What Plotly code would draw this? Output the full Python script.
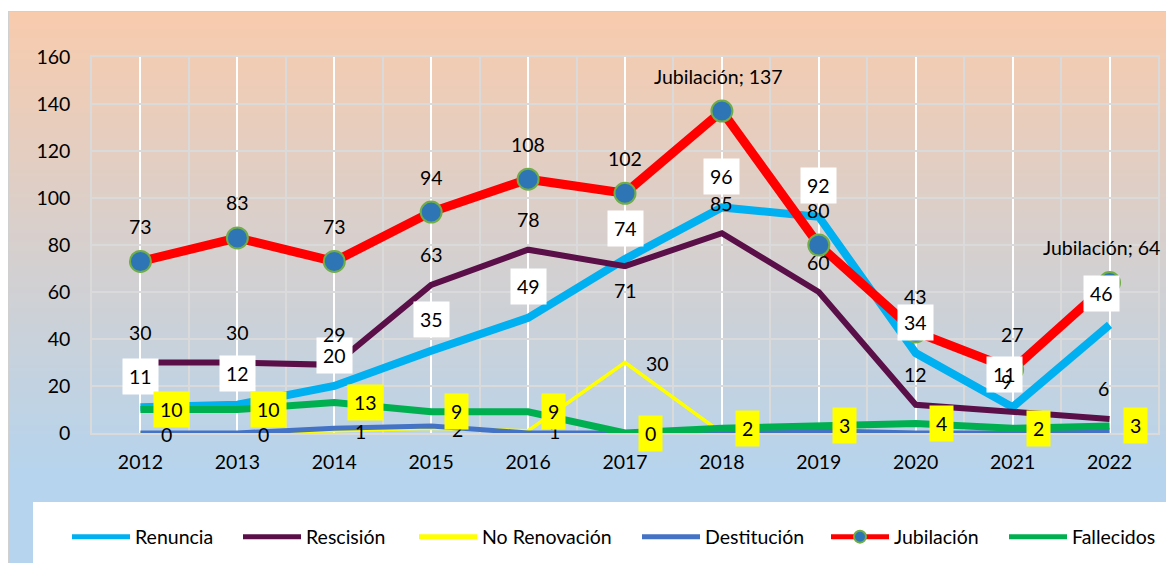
import plotly.graph_objects as go

# ---------------- data ----------------
years = [2012, 2013, 2014, 2015, 2016, 2017, 2018, 2019, 2020, 2021, 2022]
renuncia = [11, 12, 20, 35, 49, 74, 96, 92, 34, 11, 46]
rescision = [30, 30, 29, 63, 78, 71, 85, 60, 12, 9, 6]
no_renovacion = [0, 0, 1, 2, 1, 30, 0, 1, 0, 0, 0]
destitucion = [0, 0, 2, 3, 0, 0, 0, 1, 0, 0, 1]
jubilacion = [73, 83, 73, 94, 108, 102, 137, 80, 43, 27, 64]
fallecidos = [10, 10, 13, 9, 9, 0, 2, 3, 4, 2, 3]
y_ticks = [0, 20, 40, 60, 80, 100, 120, 140, 160]
series_names = ["Renuncia", "Rescisión", "No Renovación", "Destitución", "Jubilación", "Fallecidos"]
jub_named_years = [2018, 2022]            # labels that show "series; value"
no_renov_label_years = [2012, 2013, 2014, 2015, 2016, 2017]  # labels not hidden by boxes

# ---------------- layout geometry (screen pixels; page body has 8px margin) ----------------
W, H = 1174, 563
OFF = 8
PL, PR, PT, PB = 92, 1158, 57, 433          # plot area in screen pixels
pw, ph = PR - PL, PB - PT


def px(x):
    return (x - PL) / pw


def py(y):
    return (PB - y) / ph


FONT = "Lato"
FS = 19.5
fig = go.Figure()

colors = {
    "Renuncia": "#00b0f0",
    "Rescisión": "#5a0f48",
    "No Renovación": "#ffff00",
    "Destitución": "#4472c4",
    "Jubilación": "#ff0000",
    "Fallecidos": "#00b050",
}
widths = {"Renuncia": 8, "Rescisión": 6, "No Renovación": 3.5, "Destitución": 5,
          "Jubilación": 9, "Fallecidos": 7}
values = {"Renuncia": renuncia, "Rescisión": rescision, "No Renovación": no_renovacion,
          "Destitución": destitucion, "Jubilación": jubilacion, "Fallecidos": fallecidos}

for i, name in enumerate(series_names):
    if name == "Jubilación":
        kw = dict(mode="lines+markers",
                  marker=dict(size=21, color="#2e75b6", line=dict(color="#70ad47", width=2)))
    else:
        kw = dict(mode="lines")
    fig.add_trace(go.Scatter(
        x=years, y=values[name], name=name,
        line=dict(color=colors[name], width=widths[name]),
        legend="legend" if i == 0 else f"legend{i+1}",
        hoverinfo="skip", **kw))

# ---------------- data labels ----------------
ann = []
lab_font = dict(family=FONT, size=FS, color="#000000")

# No Renovación (right)
for x, v in zip(years, no_renovacion):
    if x in no_renov_label_years:
        ann.append(dict(x=x, y=v, text=str(v), showarrow=False, xanchor="left", yanchor="middle",
                        xshift=19, yshift=-1, font=lab_font))
# Jubilación (above)
for x, v in zip(years, jubilacion):
    t = f"Jubilación; {v}" if x in jub_named_years else str(v)
    ann.append(dict(x=x, y=v, text=t, showarrow=False, xanchor="center", yanchor="middle",
                    yshift=35, xshift=(-8 if x == 2022 else -3) if t != str(v) else 0, font=lab_font))
# Renuncia (above, white box)
for x, v in zip(years, renuncia):
    t = str(v)
    ann.append(dict(x=x, y=v, text=t, showarrow=False, xanchor="center", yanchor="middle",
                    yshift=(33 if x == 2021 else 31), xshift=(-8 if x in (2021, 2022) else 0),
                    font=lab_font, bgcolor="#ffffff", borderpad=6))
# Rescisión (above, 2017 below)
for x, v in zip(years, rescision):
    ann.append(dict(x=x, y=v, text=str(v), showarrow=False, xanchor="center", yanchor="middle",
                    yshift=(-24 if x == 2017 else 30), xshift=(-6 if x in (2021, 2022) else 0),
                    font=lab_font))
# Fallecidos (right, yellow box)
for x, v in zip(years, fallecidos):
    t = str(v)
    ann.append(dict(x=x, y=v, text=t, showarrow=False, xanchor="left", yanchor="middle",
                    xshift=13, yshift=0, font=lab_font,
                    bgcolor="#ffff00", borderpad=6))

# ---------------- background (gradient bands) ----------------
shapes = []
top_c = (248, 203, 173)
bot_c = (182, 212, 237)
y0g, y1g = 11, 470
step = 3
yy = 11
while yy < H + 10:
    t = min(max((yy - y0g) / (y1g - y0g), 0), 1)
    c = tuple(round(top_c[k] + (bot_c[k] - top_c[k]) * t) for k in range(3))
    shapes.append(dict(type="rect", xref="paper", yref="paper", layer="below",
                       x0=px(8), x1=px(W + 10), y0=py(yy), y1=py(yy + step + 1),
                       fillcolor=f"rgb{c}", line=dict(width=0)))
    yy += step
# outer border
shapes.append(dict(type="rect", xref="paper", yref="paper", layer="below",
                   x0=px(8.5), x1=px(W + 10), y0=py(11.5), y1=py(H + 10),
                   fillcolor="rgba(0,0,0,0)", line=dict(color="#d0d0d0", width=1)))
# legend white box
shapes.append(dict(type="rect", xref="paper", yref="paper", layer="below",
                   x0=px(33), x1=px(W + 10), y0=py(502), y1=py(H + 10),
                   fillcolor="#ffffff", line=dict(width=0)))

# ---------------- legends ----------------
leg_starts = [72, 243, 419, 642, 831, 1009]   # screen x of each legend line start
legend_layouts = {}
for i, xs in enumerate(leg_starts):
    key = "legend" if i == 0 else f"legend{i+1}"
    legend_layouts[key] = dict(
        x=px(xs - 5), y=py(537), xanchor="left", yanchor="middle", orientation="h",
        bgcolor="rgba(0,0,0,0)", borderwidth=0, itemwidth=58, itemsizing="constant",
        font=dict(family=FONT, size=FS, color="#000000"), itemclick=False,
        itemdoubleclick=False)

fig.update_layout(
    width=W, height=H,
    margin=dict(l=PL - OFF, r=W - (PR - OFF), t=PT - OFF, b=H - (PB - OFF), pad=0),
    paper_bgcolor="#ffffff", plot_bgcolor="rgba(0,0,0,0)",
    showlegend=True,
    annotations=ann, shapes=shapes,
    font=dict(family=FONT, size=FS, color="#000000"),
    xaxis=dict(range=[2011.5, 2022.5], tickvals=years, ticktext=[str(y) for y in years],
               showgrid=True, gridcolor="#ffffff", gridwidth=1.5,
               minor=dict(tick0=2011.5, dtick=1, showgrid=True, gridcolor="#dadada", gridwidth=1.5),
               showline=True, mirror=True, linecolor="#dadada", linewidth=1.5,
               zeroline=False, ticks="", tickfont=dict(family=FONT, size=FS, color="#000"),
               ticklabelstandoff=11, fixedrange=True),
    yaxis=dict(range=[0, 160], tickvals=y_ticks, showgrid=True, gridcolor="#dadada", gridwidth=1.5,
               showline=True, mirror=True, linecolor="#dadada", linewidth=1.5,
               zeroline=False, ticks="", tickfont=dict(family=FONT, size=FS, color="#000"),
               ticklabelstandoff=16, fixedrange=True),
    **legend_layouts,
)

fig.write_html("out.html")
